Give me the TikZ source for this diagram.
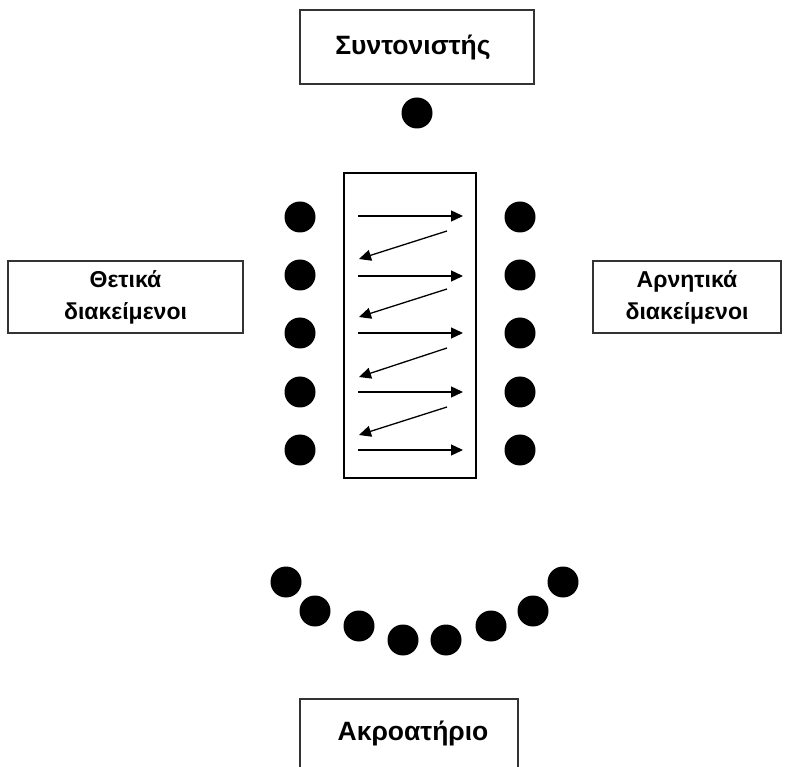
\documentclass[tikz,border=0pt]{standalone}
\usepackage{fontspec}
\setmainfont{Liberation Sans}
\usetikzlibrary{arrows.meta,shapes}
\tikzstyle{seat}=[circle,fill=black,minimum size=31pt,inner sep=0pt]
\tikzstyle{panel}=[draw=black!80,line width=1.6pt,font=\bfseries\fontsize{23}{32}\selectfont,align=center,inner sep=0pt]
\tikzstyle{big}=[font=\bfseries\fontsize{26.5}{32}\selectfont]
\tikzstyle{pass}=[draw,line width=1.3pt,-{Triangle[length=12pt,width=11pt]}]

\begin{document}
\begin{tikzpicture}[x=1pt,y=-1pt]
    \useasboundingbox (0,0) rectangle (788,767);
    \clip (0,0) rectangle (788,767);
    % The label boxes round the table
    \node[panel,minimum width=234pt,minimum height=74pt] (coord) at (417,47) {};
    \node[big] (coordtext) at ([xshift=-4pt]coord.center) {Συντονιστής};
    \node[panel,minimum width=235pt,minimum height=72pt] (pos) at (125.5,297) {Θετικά\\διακείμενοι};
    \node[panel,minimum width=188pt,minimum height=72pt] (neg) at (687,297) {Αρνητικά\\διακείμενοι};
    \node[panel,minimum width=218pt,minimum height=100pt,anchor=north] (aud) at (409,698) {};
    \node[big] (audtext) at ([xshift=4pt,yshift=-35pt]aud.north) {Ακροατήριο};
    % The table itself
    \node[draw,line width=1.3pt,minimum width=132pt,minimum height=305pt] (table) at (410,325.5) {};
    % Now the seats
    \node[seat] (mod) at (417,113) {};
    \foreach \y [count=\i] in {217,275,333,392,450} {
        \node[seat] (l\i) at (300,\y) {};
        \node[seat] (r\i) at (520,\y) {};
    }
    \foreach \x/\y [count=\i] in {286/582,315/611,359/626,403/640,446/640,491/626,533/611,563/582}
        \node[seat] (a\i) at (\x,\y) {};
    % Turns of speaking across the table
    \foreach \y [count=\i] in {216,276,333,392,450} {
        \coordinate (ts\i) at (358,\y);
        \coordinate (te\i) at (463,\y);
        \path[pass] (ts\i) -- (te\i);
    }
    \foreach \ya/\yb [count=\i] in {231/259,289/317,348/377,407/435} {
        \coordinate (bs\i) at (447,\ya);
        \coordinate (be\i) at (359,\yb);
        \path[pass] (bs\i) -- (be\i);
    }
\end{tikzpicture}
\end{document}
